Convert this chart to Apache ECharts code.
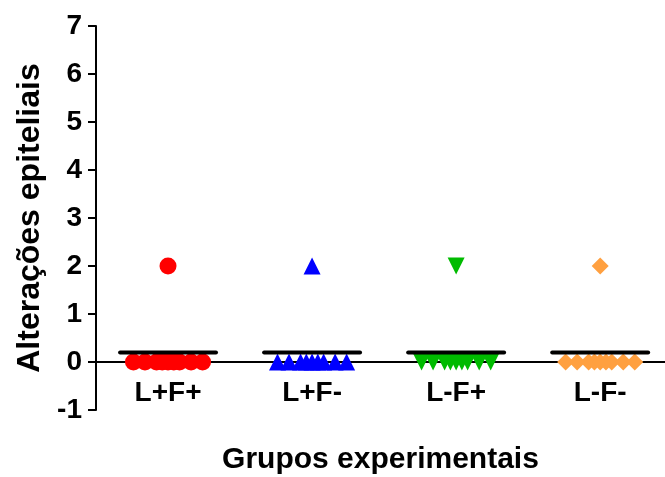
<!DOCTYPE html>
<html>
<head>
<meta charset="utf-8">
<script src="https://cdn.jsdelivr.net/npm/echarts@6/dist/echarts.min.js"></script>
<style>
    html, body { margin: 0; padding: 0; background: #fff; }
    #chart { width: 665px; height: 477px; }
</style>
</head>
<body>
<div id="chart"></div>
<script>
// grupos e valores
var groupNames = ['L+F+', 'L+F-', 'L-F+', 'L-F-'];
var valuesLFPlusPlus = [2, 0, 0, 0, 0, 0, 0, 0, 0, 0];
var valuesLFPlusMinus = [2, 0, 0, 0, 0, 0, 0, 0, 0, 0];
var valuesLFMinusPlus = [2, 0, 0, 0, 0, 0, 0, 0, 0, 0];
var valuesLFMinusMinus = [2, 0, 0, 0, 0, 0, 0, 0, 0, 0];
// deslocamento horizontal de cada ponto dentro do grupo (em unidades de grupo)
var jitter = [0, -0.24, -0.16, -0.08, -0.04, 0, 0.04, 0.08, 0.16, 0.24];
var yTicks = [-1, 0, 1, 2, 3, 4, 5, 6, 7];

var FONT = 'Liberation Sans, Arial, sans-serif';

/**
 * monta os pontos [x, y] de um grupo
 */
function buildPoints(values, groupIndex) {
    var center = groupIndex + 0.5;
    var pts = [];
    for (var i = 0; i < values.length; i++) {
        pts.push([center + jitter[i], values[i]]);
    }
    return pts;
}

/**
 * linha da média de um grupo
 */
function buildMean(values, groupIndex) {
    var sum = 0;
    for (var i = 0; i < values.length; i++) {
        sum += values[i];
    }
    var mean = sum / values.length;
    var center = groupIndex + 0.5;
    return [[center - 0.333, mean], [center + 0.333, mean]];
}

function meanSeries(values, groupIndex) {
    return {
        type: 'line',
        data: buildMean(values, groupIndex),
        symbol: 'none',
        silent: true,
        z: 3,
        lineStyle: { color: '#000', width: 4, cap: 'round' }
    };
}

function loadChart() {
    var myChart = echarts.init(document.getElementById('chart'), null, { renderer: 'canvas' });
    var groups = [valuesLFPlusPlus, valuesLFPlusMinus, valuesLFMinusPlus, valuesLFMinusMinus];
    var option = {
        animation: false,
        grid: { left: 96, right: 0, top: 26, bottom: 67, containLabel: false, outerBoundsMode: 'none' },
        xAxis: {
            type: 'value',
            min: 0,
            max: 3.95,
            interval: 0.5,
            name: 'Grupos experimentais',
            nameLocation: 'middle',
            nameGap: 35,
            nameTextStyle: { fontFamily: FONT, fontWeight: 'bold', fontSize: 30, color: '#000' },
            axisLine: { onZero: true, lineStyle: { color: '#000', width: 2 } },
            axisTick: { show: false },
            splitLine: { show: false },
            axisLabel: {
                margin: -31,
                fontFamily: FONT,
                fontWeight: 'bold',
                fontSize: 28,
                color: '#000',
                showMaxLabel: false,
                formatter: function (v) {
                    var idx = Math.round(v - 0.5);
                    if (Math.abs(v - 0.5 - idx) < 1e-6 && idx >= 0 && idx < groupNames.length) {
                        return groupNames[idx];
                    }
                    return '';
                }
            }
        },
        yAxis: {
            type: 'value',
            min: yTicks[0],
            max: yTicks[yTicks.length - 1],
            interval: 1,
            name: 'Alterações epiteliais',
            nameLocation: 'middle',
            nameGap: 42,
            nameTextStyle: { fontFamily: FONT, fontWeight: 'bold', fontSize: 32, color: '#000' },
            axisLine: { show: true, lineStyle: { color: '#000', width: 2 } },
            axisTick: { show: true, length: 8, lineStyle: { color: '#000', width: 2 } },
            splitLine: { show: false },
            axisLabel: { margin: 14, fontFamily: FONT, fontWeight: 'bold', fontSize: 28, color: '#000' }
        },
        series: [
            {
                type: 'scatter', data: buildPoints(groups[0], 0),
                symbol: 'circle', symbolSize: 17, itemStyle: { color: '#ff0000', opacity: 1 }
            },
            {
                type: 'scatter', data: buildPoints(groups[1], 1),
                symbol: 'triangle', symbolSize: 17, itemStyle: { color: '#0000ff', opacity: 1 }
            },
            {
                type: 'scatter', data: buildPoints(groups[2], 2),
                symbol: 'triangle', symbolRotate: 180, symbolSize: 17, itemStyle: { color: '#00bb00', opacity: 1 }
            },
            {
                type: 'scatter', data: buildPoints(groups[3], 3),
                symbol: 'diamond', symbolSize: 17, itemStyle: { color: '#ffa040', opacity: 1 }
            },
            meanSeries(groups[0], 0),
            meanSeries(groups[1], 1),
            meanSeries(groups[2], 2),
            meanSeries(groups[3], 3)
        ]
    };
    myChart.setOption(option, true);
}

loadChart();
</script>
</body>
</html>
